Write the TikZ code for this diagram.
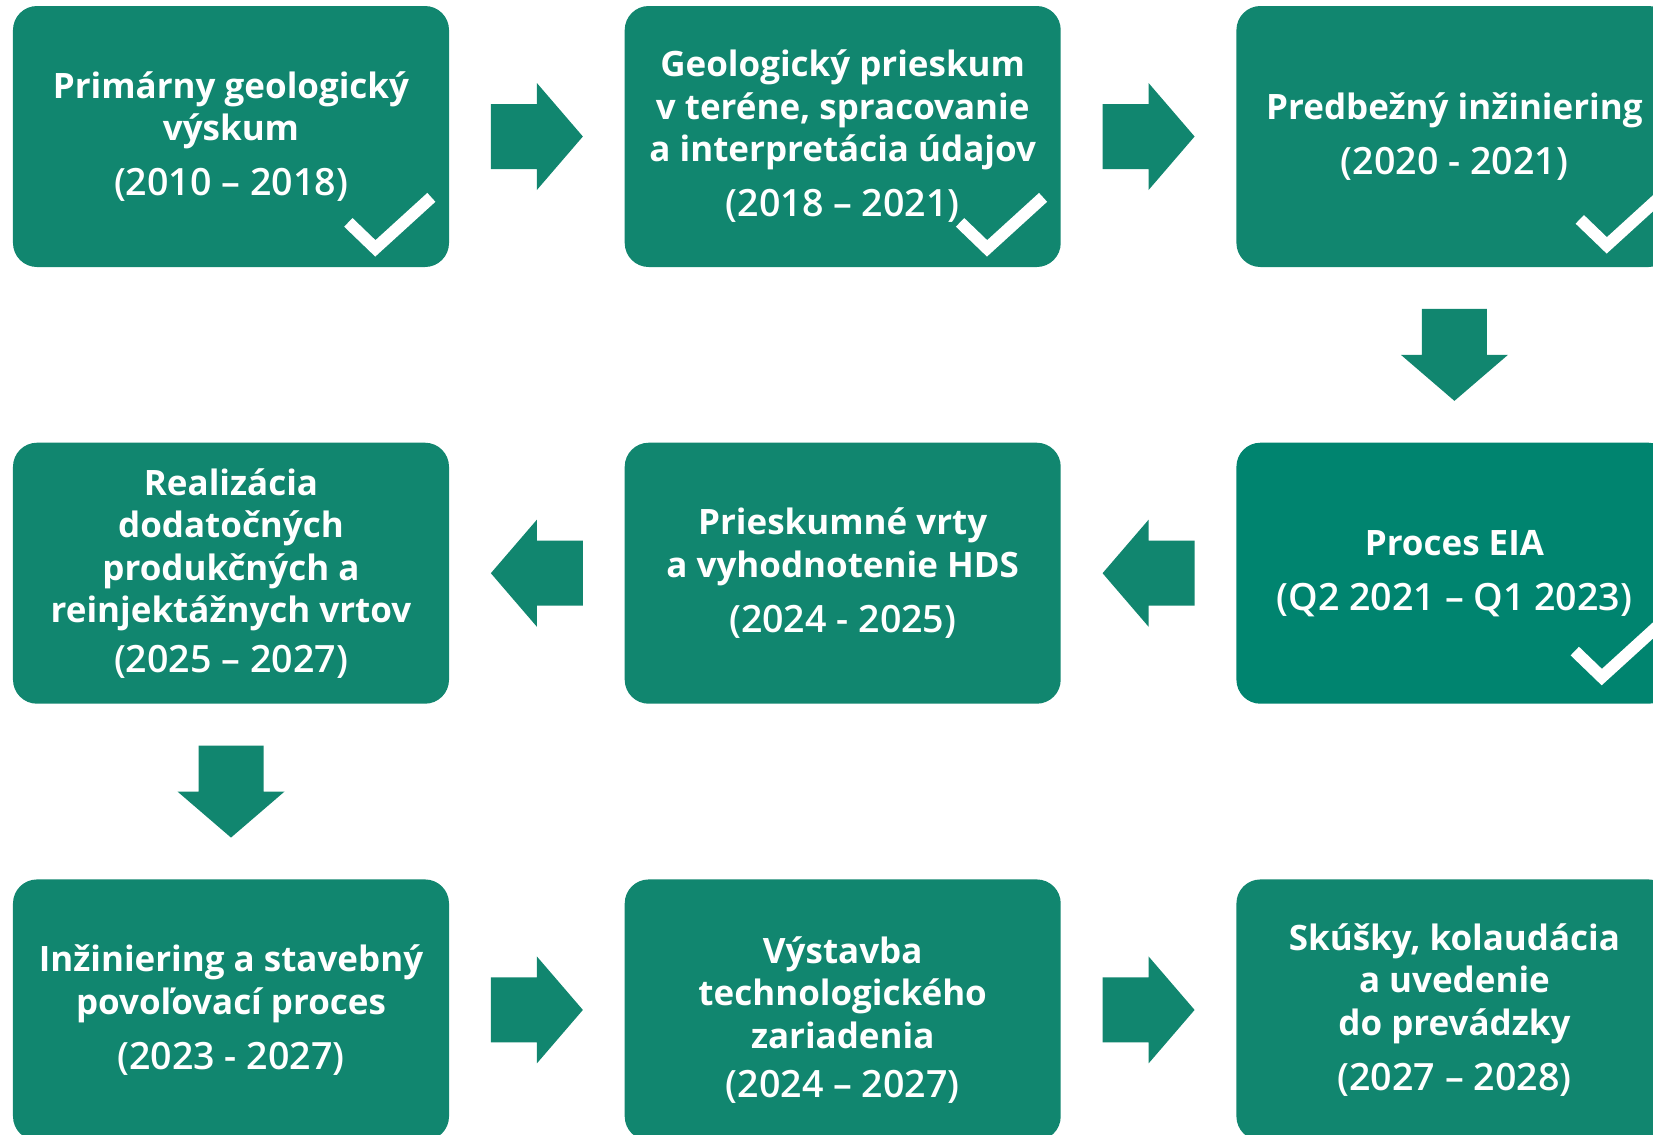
\documentclass[tikz,border=0pt]{standalone}
\usepackage{fontspec}
\setmainfont{Open Sans}
\newfontfamily\yearfont{Open Sans Light}
\usetikzlibrary{positioning, calc}
\definecolor{boxgreen}{HTML}{11866F}
\definecolor{eiagreen}{HTML}{00846F}
\newcommand\yrs[1]{{\yearfont\fontsize{21.4}{24.2}\selectfont #1}}
\tikzset{
	node distance=35mm,
	stage/.style={fill=boxgreen, rounded corners=4.8mm, minimum width=87.2mm,
		minimum height=52.2mm, inner sep=0pt, text=white, align=center,
		font=\bfseries\fontsize{19.9}{24.2}\selectfont},
	flow/.pic={\fill[boxgreen] (-46,-32.5) -- (0,-32.5) -- (0,-53.5) -- (46,0)
		-- (0,53.5) -- (0,32.5) -- (-46,32.5) -- cycle;},
	check/.pic={\draw[white, line width=2.4mm, line cap=butt, line join=miter]
		(-27,-26) -- (0,0) -- (56,-51);}
}

\begin{document}
\begin{tikzpicture}[x=0.2mm, y=-0.2mm]
	\useasboundingbox (0,0) rectangle (1653,1134);
	\clip (0,0) rectangle (1653,1134);
	
	\node[stage] (b1) at (231,136.5) {Primárny geologický\\výskum\\[7.1pt]\yrs{(2010 – 2018)}};
	\node[stage, right=of b1] (b2) {Geologický prieskum\\v teréne, spracovanie\\a interpretácia údajov\\[7.1pt]\yrs{(2018 – 2021)}};
	\node[stage, right=of b2] (b3) {Predbežný inžiniering\\[7.1pt]\yrs{(2020 - 2021)}};
	\node[stage, fill=eiagreen, below=of b3] (b4) {Proces EIA\\[7.1pt]\yrs{(Q2 2021 – Q1 2023)}};
	\node[stage, left=of b4] (b5) {Prieskumné vrty\\a vyhodnotenie HDS\\[7.1pt]\yrs{(2024 - 2025)}};
	\node[stage, left=of b5] (b6) {Realizácia\\dodatočných\\produkčných a\\reinjektážnych vrtov\\[3.9pt]\yrs{(2025 – 2027)}};
	\node[stage, below=of b6] (b7) {Inžiniering a stavebný\\povoľovací proces\\[7.1pt]\yrs{(2023 - 2027)}};
	\node[stage, right=of b7] (b8) {\rule{0pt}{27pt}Výstavba\\technologického\\zariadenia\\[3.9pt]\yrs{(2024 – 2027)}};
	\node[stage, right=of b8] (b9) {Skúšky, kolaudácia\\a uvedenie\\do prevádzky\\[7.1pt]\yrs{(2027 – 2028)}};
	
	% block arrows between the stages
	\pic at ($(b1)!.5!(b2)$) {flow};
	\pic at ($(b2)!.5!(b3)$) {flow};
	\pic[rotate=-90] at ($(b3)!.5!(b4)$) {flow};
	\pic[rotate=180] at ($(b4)!.5!(b5)$) {flow};
	\pic[rotate=180] at ($(b5)!.5!(b6)$) {flow};
	\pic[rotate=-90] at ($(b6)!.5!(b7)$) {flow};
	\pic at ($(b7)!.5!(b8)$) {flow};
	\pic at ($(b8)!.5!(b9)$) {flow};
	
	% done marks
	\pic at ([shift={(-74,-19)}]b1.south east) {check};
	\pic at ([shift={(-74,-19)}]b2.south east) {check};
	\pic at ([shift={(-66,-22)}]b3.south east) {check};
	\pic at ([shift={(-71,-27)}]b4.south east) {check};
	
\end{tikzpicture}
\end{document}
